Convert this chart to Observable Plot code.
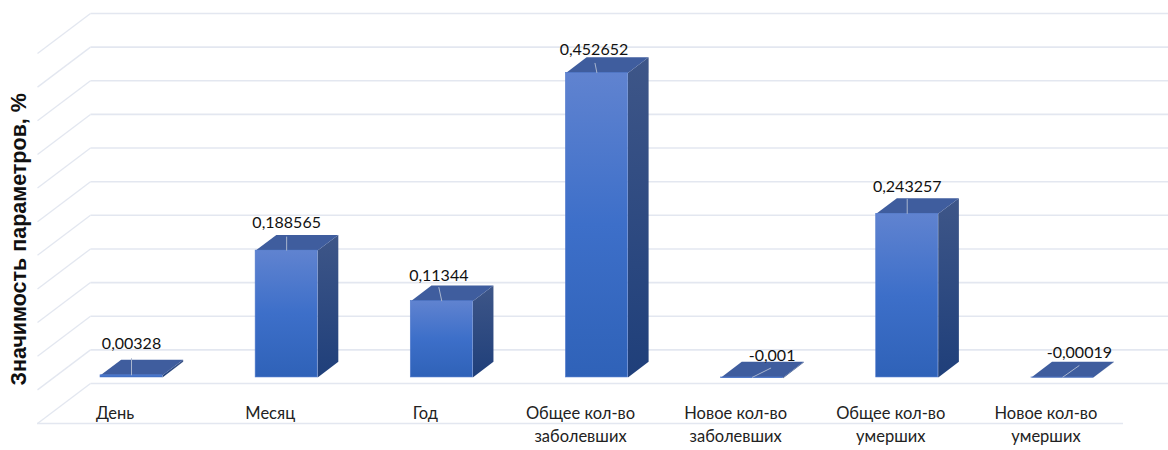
<!DOCTYPE html>
<html lang="ru">
<head>
<meta charset="utf-8">
<style>
  html, body { margin: 0; padding: 0; background: #fff; }
  svg { display: block; }
</style>
<script src="https://cdn.jsdelivr.net/npm/d3@7"></script>
<script src="https://cdn.jsdelivr.net/npm/@observablehq/plot@0.6"></script>
</head>
<body>
<script>
// Parameter significance, in percent
const categories = ["День", "Месяц", "Год", "Общее кол-во\nзаболевших", "Новое кол-во\nзаболевших", "Общее кол-во\nумерших", "Новое кол-во\nумерших"];
const values = [0.00328, 0.188565, 0.11344, 0.452652, -0.001, 0.243257, -0.00019];
const valueLabels = ["0,00328", "0,188565", "0,11344", "0,452652", "-0,001", "0,243257", "-0,00019"];
const gridValues = [-0.05, 0, 0.05, 0.1, 0.15, 0.2, 0.25, 0.3, 0.35, 0.4, 0.45, 0.5];
const axisTitle = "Значимость параметров, %";

// Pixel extent of the front edge of the 3D box
const plotX = [37, 1123];
const plotY = [423, 53];
const valueDomain = [-0.05, 0.5];
const unitX = (plotX[1] - plotX[0]) / categories.length;
const unitY = (plotY[0] - plotY[1]) / (valueDomain[1] - valueDomain[0]);
const pxX = (px) => px / unitX;
const pxY = (px) => px / unitY;

// Oblique projection: the full box depth shifts right and up
const depthX = pxX(53);
const depthY = pxY(40);
const project = (cat, val, t) => [cat + t * depthX, val + t * depthY];

// Depth span and width of each column inside its band
const frontT = 0.31;
const backT = 0.7;
const halfWidth = pxX(31);

// Label and leader offsets from the middle of a column's front top edge, in pixels
const labelShift = [[0, -31], [0, -28], [-3, -25], [-3, -23], [20, -22], [0, -27], [17, -25]];
const leaderShift = [[0, -17], [0, -14], [-3, -14], [-2, -10], [19, -9.5], [0, -15], [17, -12]];

const bars = values.map((v, i) => {
  const top = Math.max(v, 0);
  const bottom = Math.min(v, 0);
  const c = i + 0.5;
  const [fx, fTop] = project(c, top, frontT);
  const [, fBottom] = project(c, bottom, frontT);
  return { i, c, top, bottom, fx, fTop, fBottom, x1: fx - halfWidth, x2: fx + halfWidth };
});

const polygon = (corners, key) => corners.map(([cat, val, t]) => {
  const [x, y] = project(cat, val, t);
  return { x, y, key };
});

const topFaces = bars.flatMap((b) => polygon([
  [b.c - halfWidth, b.top, frontT],
  [b.c + halfWidth, b.top, frontT],
  [b.c + halfWidth, b.top, backT],
  [b.c - halfWidth, b.top, backT]
], b.i));

const sideFaces = bars.flatMap((b) => polygon([
  [b.c + halfWidth, b.top, frontT],
  [b.c + halfWidth, b.top, backT],
  [b.c + halfWidth, b.bottom, backT],
  [b.c + halfWidth, b.bottom, frontT]
], b.i));

// Gradient definitions shared by the column faces
const gradients = () => {
  const defs = d3.create("svg:defs");
  const add = (id, stops) => {
    const g = defs.append("linearGradient").attr("id", id)
      .attr("x1", 0).attr("y1", 0).attr("x2", 0).attr("y2", 1);
    for (const [offset, color] of stops) {
      g.append("stop").attr("offset", offset).attr("stop-color", color);
    }
  };
  add("front-face", [[0, "#6083d0"], [0.5, "#3d6fc9"], [1, "#2f62b8"]]);
  add("side-face", [[0, "#3e5688"], [1, "#1f3f7a"]]);
  return defs.node();
};

const chart = Plot.plot({
  width: 1168,
  height: 450,
  margin: 0,
  style: { background: "#fff", fontFamily: "Lato, sans-serif", overflow: "hidden" },
  x: { domain: [0, categories.length], range: plotX, axis: null },
  y: { domain: valueDomain, range: plotY, axis: null },
  marks: [
    gradients,
    // Back wall grid
    Plot.link(gridValues, {
      x1: depthX, x2: categories.length + depthX,
      y1: (v) => v + depthY, y2: (v) => v + depthY,
      stroke: "#e3e7f0", strokeWidth: 1.6
    }),
    // Side wall grid
    Plot.link(gridValues, {
      x1: 0, x2: depthX,
      y1: (v) => v, y2: (v) => v + depthY,
      stroke: "#e3e7f0", strokeWidth: 1.3
    }),
    // Front edge of the floor
    Plot.ruleY([valueDomain[0]], { x1: 0, x2: categories.length, stroke: "#e3e7f0", strokeWidth: 1.6 }),

    // Columns
    Plot.line(sideFaces, { x: "x", y: "y", z: "key", fill: "url(#side-face)", stroke: "none" }),
    Plot.line(topFaces, { x: "x", y: "y", z: "key", fill: "#3f5d9e", stroke: "none" }),
    Plot.rect(bars, {
      x1: "x1", x2: "x2", y1: "fBottom", y2: "fTop",
      fill: "url(#front-face)", stroke: "#5079cc", strokeWidth: 0.6
    }),

    // Leader lines
    Plot.link(bars, {
      x1: "fx", y1: "fTop",
      x2: (b) => b.fx + pxX(leaderShift[b.i][0]),
      y2: (b) => b.fTop - pxY(leaderShift[b.i][1]),
      stroke: "#a9b6cf", strokeWidth: 1
    }),

    // Value labels
    Plot.text(bars, {
      x: (b) => b.fx + pxX(labelShift[b.i][0]),
      y: (b) => b.fTop - pxY(labelShift[b.i][1]),
      text: (b) => valueLabels[b.i],
      fontSize: 16, fill: "#111"
    }),

    // Category labels, split around the floor edge
    Plot.text(categories, {
      x: (d, i) => i + 0.5,
      y: valueDomain[0],
      text: (d) => d,
      lineAnchor: "top",
      lineHeight: 1.39,
      dy: -21,
      fontSize: 16.5, fill: "#222"
    }),

    // Value axis title
    Plot.text([axisTitle], {
      frameAnchor: "left",
      dx: 19,
      dy: 160,
      rotate: -90,
      fontSize: 21.5,
      fontWeight: "bold",
      fontFamily: "'Liberation Sans', Arial, sans-serif",
      fill: "#111"
    })
  ]
});

document.body.append(chart);
</script>
</body>
</html>
